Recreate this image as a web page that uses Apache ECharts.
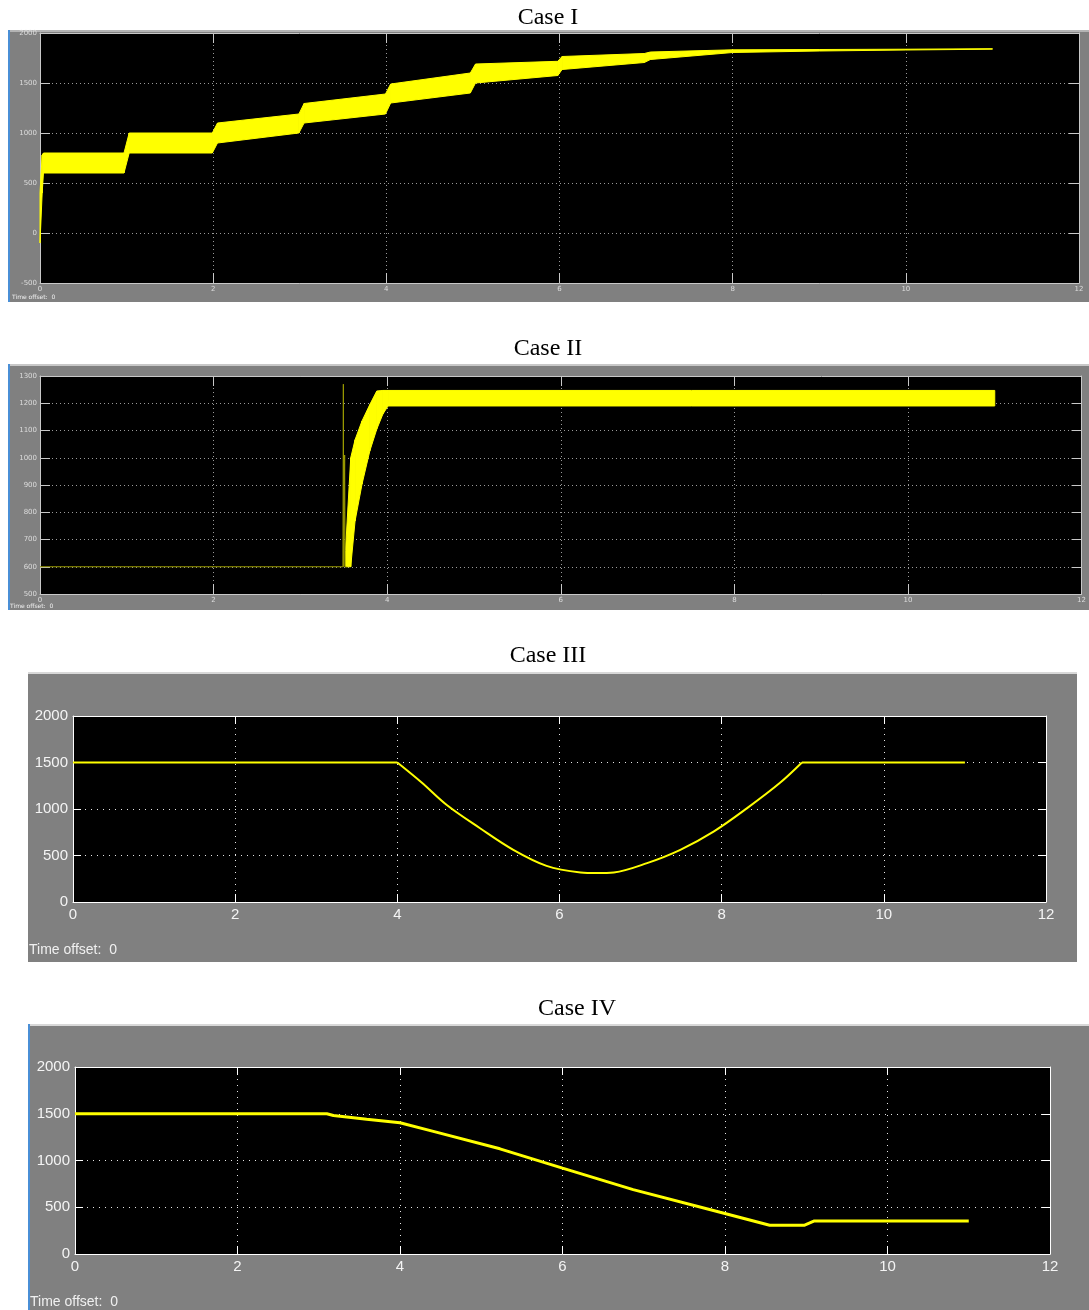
<!DOCTYPE html>
<html><head><meta charset="utf-8">
<script src="https://cdn.jsdelivr.net/npm/echarts@6.0.0/dist/echarts.min.js"></script>
<style>html,body{margin:0;padding:0;background:#fff}#c{width:1089px;height:1310px}</style>
</head><body><div id="c"></div>
<script>
// ---- Data (time in s, speed) ----
const caseTitles = ['Case I', 'Case II', 'Case III', 'Case IV'];

// Case I: oscillating band (lower / upper envelope)
const caseITime = [0, 0.025, 0.04, 0.97, 1.03, 1.99, 2.05, 2.99, 3.05, 3.99, 4.05, 4.97, 5.03, 5.98, 6.03, 6.98, 7.05, 8.0, 9.0, 10.0, 11.0];
const caseILow  = [-100, 400, 600, 600, 800, 800, 900, 1000, 1100, 1190, 1300, 1400, 1500, 1575, 1635, 1705, 1735, 1805, 1820, 1830, 1838];
const caseIHigh = [400, 780, 800, 800, 1000, 1000, 1100, 1190, 1295, 1390, 1490, 1600, 1690, 1717, 1765, 1795, 1810, 1832, 1835, 1838, 1843];

// Case II: initial flat trace with spikes, then band
const caseIILineTime = [0, 3.49, 3.495, 3.50, 3.51, 3.515, 3.53];
const caseIILineVal  = [600, 600, 1270, 600, 1010, 600, 600];
const caseIITime = [3.52, 3.58, 3.63, 3.71, 3.80, 3.88, 3.95, 4.01, 11.0];
const caseIILow  = [600, 600, 768, 903, 1025, 1105, 1160, 1190, 1190];
const caseIIHigh = [660, 1000, 1066, 1135, 1195, 1245, 1247, 1247, 1247];

// Case III
const caseIIIFlatTime = [0, 4.0];
const caseIIIFlatVal  = [1500, 1500];
const caseIIITime = [4.0, 4.3, 4.61, 5.02, 5.43, 5.84, 6.26, 6.46, 6.67, 7.08, 7.49, 7.90, 8.31, 8.72, 8.99];
const caseIIIVal  = [1500, 1285, 1043, 793, 561, 389, 318, 311, 318, 418, 561, 757, 1007, 1282, 1500];
const caseIIIEndTime = [8.99, 11.0];
const caseIIIEndVal  = [1500, 1500];

// Case IV
const caseIVTime = [0, 3.1, 3.18, 3.59, 4.0, 4.41, 5.23, 6.0, 6.87, 7.94, 8.55, 8.98, 9.1, 11.0];
const caseIVVal  = [1500, 1500, 1482, 1440, 1404, 1311, 1125, 918, 689, 446, 308, 308, 354, 354];

// Axis settings
const xMin = 0, xMax = 12, xStep = 2;
const yRanges = [[-500, 2000, 500], [500, 1300, 100], [0, 2000, 500], [0, 2000, 500]];

// ---- Layout ----
const grids = [
  {left: 40, top: 33, width: 1039, height: 250},
  {left: 40, top: 376, width: 1048, height: 218},
  {left: 73, top: 716, width: 973, height: 186},
  {left: 75, top: 1067, width: 975, height: 187}
];
const small = [true, true, false, false];
const YEL = '#ffff00';
const BIGFONT = '"Liberation Sans Narrow", "Liberation Sans", Arial, sans-serif';

function axisStyle(i, isX, secondary) {
  const s = small[i];
  const lineCol = s ? '#c8c8c8' : '#ffffff';
  const gridCol = s ? '#9a9a9a' : '#e6e6e6';
  const r = yRanges[i];
  const ax = {
    type: 'value', gridIndex: i,
    min: isX ? xMin : r[0], max: isX ? xMax : r[1], interval: isX ? xStep : r[2],
    axisLine: {show: true, onZero: false, lineStyle: {color: lineCol, width: 1}},
    axisTick: {show: true, inside: true, length: s ? 10 : 8, lineStyle: {color: lineCol, width: 1}},
    axisLabel: secondary ? {show: false} : {
      show: true,
      color: s ? '#dcdcdc' : '#f4f4f4',
      fontSize: s ? 7 : 15,
      fontFamily: s ? 'DejaVu Sans, sans-serif' : BIGFONT,
      margin: s ? 3 : 5,
      showMinLabel: true, showMaxLabel: true,
      formatter: (v) => String(v)
    },
    splitLine: secondary ? {show: false} : {show: true, lineStyle: {color: gridCol, type: s ? [1, 3] : [1, 5], width: 1}}
  };
  if (isX) ax.position = secondary ? 'top' : 'bottom';
  else ax.position = secondary ? 'right' : 'left';
  return ax;
}

const xAxes = [], yAxes = [];
for (let i = 0; i < 4; i++) { xAxes.push(axisStyle(i, true, false)); yAxes.push(axisStyle(i, false, false)); }
for (let i = 0; i < 4; i++) { xAxes.push(axisStyle(i, true, true)); yAxes.push(axisStyle(i, false, true)); }

function bandSeries(gi, t, lo, hi) {
  const rows = t.map((x, k) => [x, lo[k], hi[k]]);
  return {
    type: 'custom', xAxisIndex: gi, yAxisIndex: gi, silent: true, z: 5,
    data: rows, encode: {x: 0, y: [1, 2]},
    renderItem(params, api) {
      const k = params.dataIndex;
      if (k >= rows.length - 1) return null;
      const a = rows[k], b = rows[k + 1];
      const pts = [api.coord([a[0], a[2]]), api.coord([b[0], b[2]]), api.coord([b[0], b[1]]), api.coord([a[0], a[1]])];
      return {type: 'polygon', shape: {points: pts}, style: {fill: YEL, stroke: YEL, lineWidth: 1}};
    }
  };
}
function lineSeries(gi, t, v, color, w, smooth) {
  return {
    type: 'line', xAxisIndex: gi, yAxisIndex: gi, showSymbol: false, silent: true, z: 5,
    data: t.map((x, k) => [x, v[k]]),
    smooth: smooth || false,
    lineStyle: {color: color, width: w}
  };
}

const panels = [
  {x: 8, y: 30, w: 1081, h: 272, top: '#b4b4b4', blue: true},
  {x: 8, y: 364, w: 1081, h: 246, top: '#c8c8c8', blue: true},
  {x: 28, y: 672, w: 1049, h: 290, top: '#d8d8d8', blue: false},
  {x: 28, y: 1024, w: 1061, h: 286, top: '#d8d8d8', blue: true}
];
const titlePos = [[548, 18], [548, 349], [548, 656], [577, 1009]];
const offsetPos = [[12, 297, 6], [10, 606, 6], [29, 950, 14], [30, 1302, 14]];

const graphics = [];
panels.forEach((p, i) => {
  graphics.push({type: 'rect', z: -10, shape: {x: p.x, y: p.y, width: p.w, height: p.h}, style: {fill: '#808080'}});
  graphics.push({type: 'rect', z: -9, shape: {x: p.x, y: p.y, width: p.w, height: 2}, style: {fill: p.top}});
  if (p.blue) graphics.push({type: 'rect', z: -9, shape: {x: p.x, y: p.y, width: 2, height: p.h}, style: {fill: '#4a8fd6'}});
  graphics.push({type: 'text', x: titlePos[i][0], y: titlePos[i][1],
    style: {text: caseTitles[i], font: '24px "Liberation Serif", "Times New Roman", serif', fill: '#000', align: 'center', verticalAlign: 'middle'}});
  const o = offsetPos[i];
  graphics.push({type: 'text', x: o[0], y: o[1],
    style: {text: 'Time offset:  0', font: o[2] + 'px ' + (o[2] < 10 ? 'DejaVu Sans, sans-serif' : BIGFONT), fill: '#f0f0f0', align: 'left', verticalAlign: 'middle'}});
});

const chart = echarts.init(document.getElementById('c'), null, {renderer: 'canvas'});
chart.setOption({
  animation: false,
  backgroundColor: '#ffffff',
  grid: grids.map((g, i) => Object.assign({show: true, backgroundColor: '#000000', borderWidth: 0, containLabel: false}, g)),
  xAxis: xAxes,
  yAxis: yAxes,
  graphic: graphics,
  series: [
    bandSeries(0, caseITime, caseILow, caseIHigh),
    lineSeries(1, caseIILineTime, caseIILineVal, '#9a9a00', 1),
    bandSeries(1, caseIITime, caseIILow, caseIIHigh),
    lineSeries(2, caseIIIFlatTime, caseIIIFlatVal, YEL, 2),
    lineSeries(2, caseIIITime, caseIIIVal, YEL, 2, 0.35),
    lineSeries(2, caseIIIEndTime, caseIIIEndVal, YEL, 2),
    lineSeries(3, caseIVTime, caseIVVal, YEL, 3)
  ]
});
</script>
</body></html>
